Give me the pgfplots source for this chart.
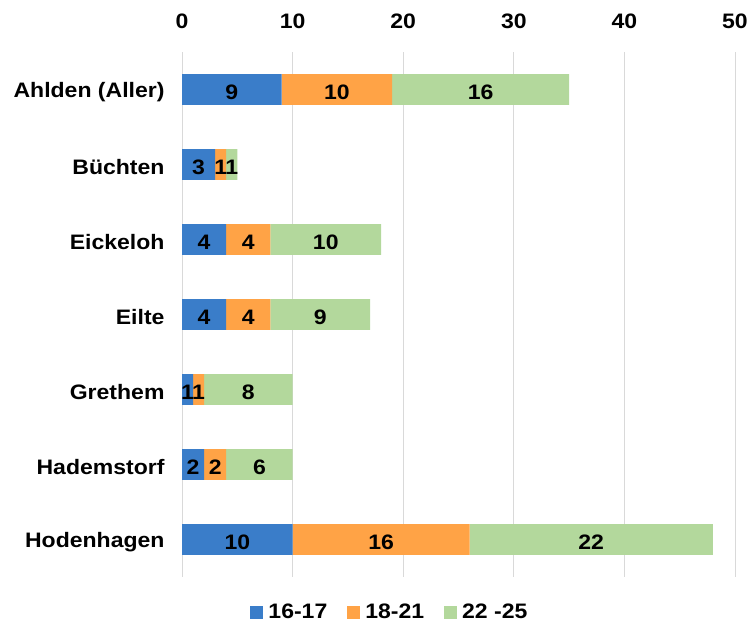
\documentclass[border=0pt]{standalone}
\usepackage{fontspec}
\setmainfont{Liberation Sans}[FakeStretch=1.1]
\usepackage{pgfplots}
\pgfplotsset{compat=1.18}
\definecolor{cBlue}{HTML}{3A7DC9}
\definecolor{cOrange}{HTML}{FFA346}
\definecolor{cGreen}{HTML}{B3D89C}
\definecolor{cGrid}{HTML}{D9D9D9}
\newcommand{\lbl}{\fontsize{21}{25}\selectfont\bfseries}
\begin{document}
\begin{tikzpicture}
\path[use as bounding box] (0,0) rectangle (749bp,628bp);
\begin{axis}[
 at={(182bp,51bp)}, anchor=south west,
 scale only axis, width=553bp, height=525bp,
 xbar stacked, bar width=0.41,
 xmin=0, xmax=50, ymin=-0.5, ymax=6.5, y dir=reverse,
 ytick={0,...,6},
 yticklabels={Ahlden (Aller),Büchten,Eickeloh,Eilte,Grethem,Hademstorf,Hodenhagen},
 xtick={0,10,...,50},
 xticklabel pos=upper,
 axis line style={draw=none},
 major tick length=0,
 xmajorgrids, ymajorgrids=false,
 grid style={cGrid, line width=1bp},
 /pgf/number format/assume math mode=true,
 tick label style={font=\lbl, text=black},
 yticklabel style={xshift=-14bp, yshift=-3bp},
 xticklabel style={yshift=20bp},
 nodes near coords,
 every node near coord/.style={font=\lbl, text=black, yshift=-3bp},
 legend style={at={(0.376,-0.067)}, anchor=center, draw=none, fill=none,
   legend columns=-1, font=\lbl,
   /tikz/every even column/.append style={column sep=18bp}},
 legend image code/.code={\fill[#1] (0bp,-6.5bp) rectangle (13bp,6.5bp);},
 legend cell align=left,
]
\addplot[fill=cBlue, draw=none] coordinates {(9,0) (3,1) (4,2) (4,3) (1,4) (2,5) (10,6)};
\addlegendentry{\hspace{3bp}16-17}
\addplot[fill=cOrange, draw=none] coordinates {(10,0) (1,1) (4,2) (4,3) (1,4) (2,5) (16,6)};
\addlegendentry{\hspace{3bp}18-21}
\addplot[fill=cGreen, draw=none] coordinates {(16,0) (1,1) (10,2) (9,3) (8,4) (6,5) (22,6)};
\addlegendentry{\hspace{3bp}22 -25}
\end{axis}
\end{tikzpicture}
\end{document}
